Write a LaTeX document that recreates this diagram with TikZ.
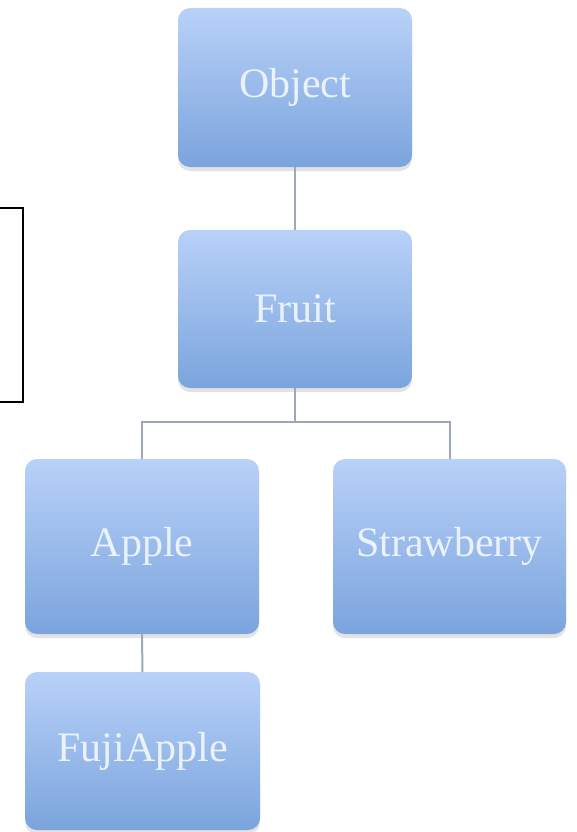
\documentclass[tikz,border=0pt]{standalone}
\usepackage{fontspec}
\setmainfont{Liberation Serif}
\usetikzlibrary{shadows}
\definecolor{boxtop}{HTML}{B8D1F8}
\definecolor{boxbot}{HTML}{7BA4DD}
\definecolor{boxtext}{HTML}{EAF2FD}
\definecolor{conn}{HTML}{9EA8B6}
\tikzset{
  box/.style={rounded corners=12pt, top color=boxtop, bottom color=boxbot,
    draw=none, inner sep=0pt, outer sep=0pt, text=boxtext,
    font=\fontsize{42}{46}\selectfont,
    drop shadow={opacity=0.22, shadow xshift=0pt, shadow yshift=-4pt}},
  link/.style={draw=conn, line width=2pt}
}
\begin{document}
\begin{tikzpicture}[x=1pt, y=-1pt]
\useasboundingbox (0,0) rectangle (577,832);
\draw[line width=2.4pt, black] (-20,208) rectangle (23,402);
\node[box, minimum width=234pt, minimum height=159pt] (obj) at (295,87.5) {Object};
\node[box, minimum width=234pt, minimum height=158pt] (fruit) at (295,309) {Fruit};
\node[box, minimum width=234pt, minimum height=175pt] (apple) at (142,546.5) {Apple};
\node[box, minimum width=233pt, minimum height=175pt] (straw) at (449.5,546.5) {Strawberry};
\node[box, minimum width=235pt, minimum height=158pt] (fuji) at (142.5,751) {FujiApple};
\coordinate (j) at (295,422);
\draw[link] (obj.south) -- (fruit.north);
\draw[link] (fruit.south) -- (j);
\draw[link] (apple.north) |- (j) -| (straw.north);
\draw[link] (apple.south) -- (fuji.north);
\end{tikzpicture}
\end{document}
